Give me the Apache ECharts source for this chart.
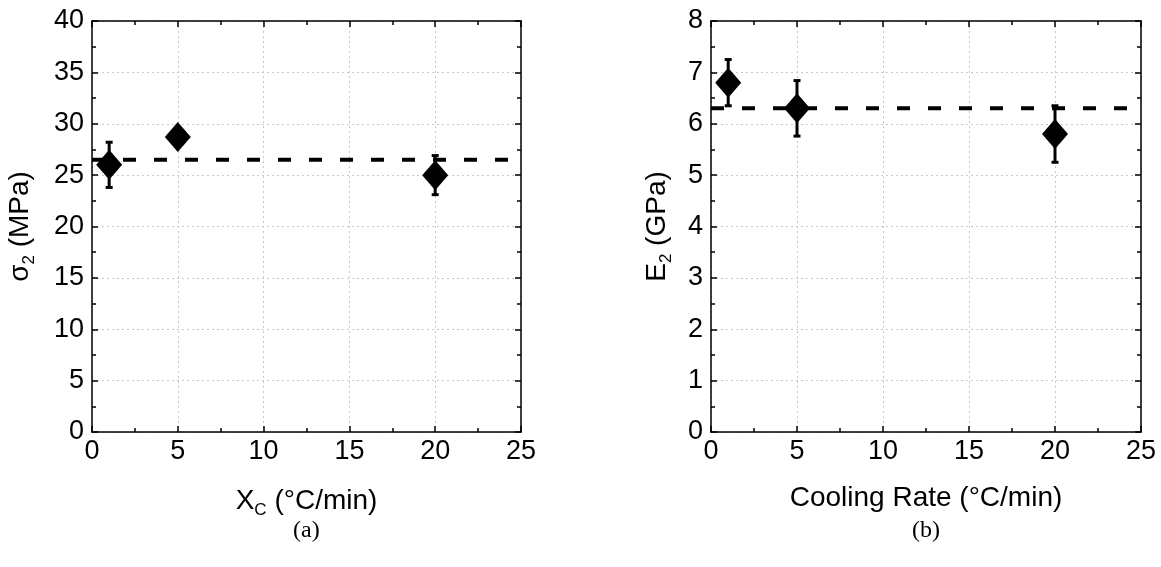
<!DOCTYPE html>
<html>
<head>
<meta charset="utf-8">
<script src="https://cdn.jsdelivr.net/npm/echarts@6/dist/echarts.min.js"></script>
<style>
html,body{margin:0;padding:0;background:#fff;}
#main{width:1161px;height:567px;}
</style>
</head>
<body>
<div id="main"></div>
<script>
// ---- data ----
var coolingRates = [1, 5, 20];
var sigma2 = [26.0, 28.7, 25.0];
var sigma2Err = [2.2, 0, 1.9];
var sigma2Mean = 26.5;
var e2 = [6.8, 6.3, 5.8];
var e2Err = [0.45, 0.54, 0.55];
var e2Mean = 6.3;
var xTicks = [0, 5, 10, 15, 20, 25];
var sigmaTicks = [0, 5, 10, 15, 20, 25, 30, 35, 40];
var eTicks = [0, 1, 2, 3, 4, 5, 6, 7, 8];

var FONT = '"Liberation Sans", Arial, sans-serif';
var LBL = 27;
var TTL = 28;

function pts(xs, ys) { return xs.map(function (x, i) { return [x, ys[i]]; }); }
function errs(xs, ys, es) {
  var out = [];
  xs.forEach(function (x, i) { if (es[i] > 0) out.push([x, ys[i] - es[i], ys[i] + es[i]]); });
  return out;
}
function errRender(params, api) {
  var lo = api.coord([api.value(0), api.value(1)]);
  var hi = api.coord([api.value(0), api.value(2)]);
  var cw = 3.5;
  var st = { stroke: '#000', lineWidth: 3 };
  return {
    type: 'group',
    children: [
      { type: 'line', shape: { x1: lo[0], y1: lo[1], x2: hi[0], y2: hi[1] }, style: st },
      { type: 'line', shape: { x1: lo[0] - cw, y1: lo[1], x2: lo[0] + cw, y2: lo[1] }, style: st },
      { type: 'line', shape: { x1: hi[0] - cw, y1: hi[1], x2: hi[0] + cw, y2: hi[1] }, style: st }
    ]
  };
}
var nameStyle = { color: '#000', fontFamily: FONT, fontSize: TTL,
  rich: {
    n: { fontSize: TTL, fontFamily: FONT, color: '#000' },
    s: { fontSize: 17, fontFamily: FONT, color: '#000', padding: [18, 0, 0, 0] }
  } };

function mainX(grid, name) {
  return {
    type: 'value', gridIndex: grid, position: 'bottom',
    min: xTicks[0], max: xTicks[xTicks.length - 1], interval: xTicks[1] - xTicks[0],
    name: name, nameLocation: 'middle', nameGap: 52,
    nameTextStyle: nameStyle,
    axisLine: { show: true, onZero: false, lineStyle: { color: '#000', width: 1.5 } },
    axisTick: { show: true, inside: true, length: 6, lineStyle: { color: '#000', width: 1.5 } },
    minorTick: { show: true, splitNumber: 2, length: 4, lineStyle: { color: '#000', width: 1.5 } },
    axisLabel: { color: '#000', fontFamily: FONT, fontSize: LBL, margin: 6 },
    splitLine: { show: true, lineStyle: { color: '#c8c8c8', type: [2, 3], width: 1 } }
  };
}
function mirrorX(grid) {
  return {
    type: 'value', gridIndex: grid, position: 'top',
    min: xTicks[0], max: xTicks[xTicks.length - 1], interval: xTicks[1] - xTicks[0],
    axisLine: { show: true, onZero: false, lineStyle: { color: '#000', width: 1.5 } },
    axisTick: { show: true, inside: true, length: 6, lineStyle: { color: '#000', width: 1.5 } },
    minorTick: { show: true, splitNumber: 2, length: 4, lineStyle: { color: '#000', width: 1.5 } },
    axisLabel: { show: false }, splitLine: { show: false }
  };
}
function mainY(grid, ticks, name, gap) {
  return {
    type: 'value', gridIndex: grid, position: 'left',
    min: ticks[0], max: ticks[ticks.length - 1], interval: ticks[1] - ticks[0],
    name: name, nameLocation: 'middle', nameGap: gap,
    nameTextStyle: nameStyle,
    axisLine: { show: true, onZero: false, lineStyle: { color: '#000', width: 1.5 } },
    axisTick: { show: true, inside: true, length: 6, lineStyle: { color: '#000', width: 1.5 } },
    minorTick: { show: true, splitNumber: 2, length: 4, lineStyle: { color: '#000', width: 1.5 } },
    axisLabel: { color: '#000', fontFamily: FONT, fontSize: LBL, margin: 8 },
    splitLine: { show: true, lineStyle: { color: '#c8c8c8', type: [2, 3], width: 1 } }
  };
}
function mirrorY(grid, ticks) {
  return {
    type: 'value', gridIndex: grid, position: 'right',
    min: ticks[0], max: ticks[ticks.length - 1], interval: ticks[1] - ticks[0],
    axisLine: { show: true, onZero: false, lineStyle: { color: '#000', width: 1.5 } },
    axisTick: { show: true, inside: true, length: 6, lineStyle: { color: '#000', width: 1.5 } },
    minorTick: { show: true, splitNumber: 2, length: 4, lineStyle: { color: '#000', width: 1.5 } },
    axisLabel: { show: false }, splitLine: { show: false }
  };
}

var chart = echarts.init(document.getElementById('main'), null, { renderer: 'canvas' });
var option = {
  backgroundColor: '#fff',
  animation: false,
  grid: [
    { left: 92, right: 640, top: 21, bottom: 135 },
    { left: 711, right: 20, top: 21, bottom: 135 }
  ],
  xAxis: [
    mainX(0, '{n|X}{s|C}{n| (°C/min)}'),
    mainX(1, 'Cooling Rate (°C/min)'),
    mirrorX(0),
    mirrorX(1)
  ],
  yAxis: [
    mainY(0, sigmaTicks, '{n|σ}{s|2}{n| (MPa)}', 54),
    mainY(1, eTicks, '{n|E}{s|2}{n| (GPa)}', 36),
    mirrorY(0, sigmaTicks),
    mirrorY(1, eTicks)
  ],
  graphic: [
    { type: 'text', left: 293, top: 519, style: { text: '(a)', fontFamily: '"Liberation Serif", "Times New Roman", serif', fontSize: 24, fill: '#000' } },
    { type: 'text', left: 912, top: 519, style: { text: '(b)', fontFamily: '"Liberation Serif", "Times New Roman", serif', fontSize: 24, fill: '#000' } }
  ],
  series: [
    { type: 'line', xAxisIndex: 0, yAxisIndex: 0, data: [[xTicks[0], sigma2Mean], [xTicks[xTicks.length - 1], sigma2Mean]],
      symbol: 'none', lineStyle: { color: '#000', width: 4, type: [13, 18] }, z: 3 },
    { type: 'custom', xAxisIndex: 0, yAxisIndex: 0, renderItem: errRender, data: errs(coolingRates, sigma2, sigma2Err), z: 4 },
    { type: 'scatter', xAxisIndex: 0, yAxisIndex: 0, data: pts(coolingRates, sigma2), symbol: 'diamond', symbolSize: [26, 30],
      itemStyle: { color: '#000', opacity: 1 }, z: 5 },
    { type: 'line', xAxisIndex: 1, yAxisIndex: 1, data: [[xTicks[0], e2Mean], [xTicks[xTicks.length - 1], e2Mean]],
      symbol: 'none', lineStyle: { color: '#000', width: 4, type: [13, 18] }, z: 3 },
    { type: 'custom', xAxisIndex: 1, yAxisIndex: 1, renderItem: errRender, data: errs(coolingRates, e2, e2Err), z: 4 },
    { type: 'scatter', xAxisIndex: 1, yAxisIndex: 1, data: pts(coolingRates, e2), symbol: 'diamond', symbolSize: [26, 30],
      itemStyle: { color: '#000', opacity: 1 }, z: 5 }
  ]
};
chart.setOption(option);
</script>
</body>
</html>
